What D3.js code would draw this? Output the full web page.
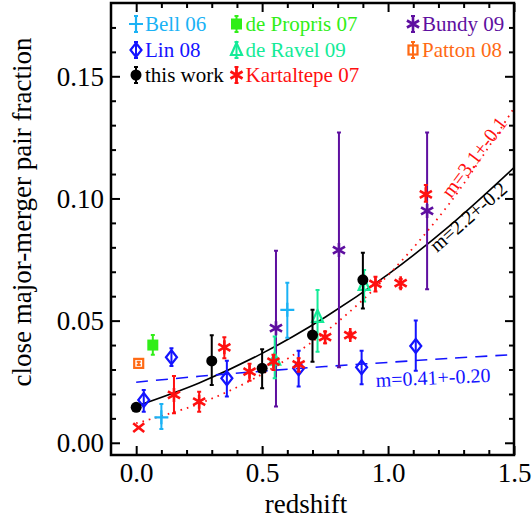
<!DOCTYPE html>
<html><head><meta charset="utf-8">
<script src="https://cdn.jsdelivr.net/npm/d3@7/dist/d3.min.js"></script>
<style>
body{margin:0;background:#fff}
svg text{font-family:'Liberation Serif','Times New Roman',Times,serif !important}
</style>
</head><body>
<svg id="chart" width="532" height="523"></svg>
<script>
// ---------- data ----------
const xMajorTicks = [0.0, 0.5, 1.0, 1.5];
const xTickLabels = ["0.0", "0.5", "1.0", "1.5"];
const xMinorTicks = [0.1, 0.2, 0.3, 0.4, 0.6, 0.7, 0.8, 0.9, 1.1, 1.2, 1.3, 1.4];
const yMajorTicks = [0.00, 0.05, 0.10, 0.15];
const yTickLabels = ["0.00", "0.05", "0.10", "0.15"];
const yMinorTicks = [0.01, 0.02, 0.03, 0.04, 0.06, 0.07, 0.08, 0.09, 0.11, 0.12, 0.13, 0.14, 0.16, 0.17];

// this work
const thisWorkZ  = [0.0, 0.3, 0.5, 0.7, 0.9];
const thisWorkF  = [0.0145, 0.0335, 0.0305, 0.0441, 0.0667];
const thisWorkLo = [0.0138, 0.0237, 0.0223, 0.0332, 0.0550];
const thisWorkHi = [0.0152, 0.0440, 0.0383, 0.0544, 0.0778];
// Bell 06
const bellZ  = [0.10, 0.60];
const bellF  = [0.0104, 0.0544];
const bellLo = [0.0056, 0.0430];
const bellHi = [0.0159, 0.0655];
// Lin 08
const linZ  = [0.03, 0.14, 0.36, 0.645, 0.895, 1.11];
const linF  = [0.0175, 0.0350, 0.0264, 0.0305, 0.0309, 0.0396];
const linLo = [0.0127, 0.0314, 0.0189, 0.0230, 0.0240, 0.0295];
const linHi = [0.0216, 0.0387, 0.0336, 0.0377, 0.0377, 0.0500];
// de Propris 07
const depropZ  = [0.066];
const depropF  = [0.0400];
const depropLo = [0.0360];
const depropHi = [0.0441];
// de Ravel 09
const deravelZ  = [0.55, 0.72, 0.905];
const deravelF  = [0.0340, 0.0515, 0.0646];
const deravelLo = [0.0264, 0.0373, 0.0578];
const deravelHi = [0.0435, 0.0625, 0.0707];
// Kartaltepe 07
const kartZ  = [0.01, 0.15, 0.25, 0.35, 0.45, 0.545, 0.645, 0.75, 0.85, 0.95, 1.05, 1.15];
const kartF  = [0.0062, 0.0196, 0.0168, 0.0391, 0.0291, 0.0332, 0.0321, 0.0432, 0.0441, 0.0650, 0.0653, 0.1017];
const kartLo = [0.0062, 0.0121, 0.0127, 0.0346, 0.0254, 0.0298, 0.0291, 0.0407, 0.0430, 0.0619, 0.0635, 0.0987];
const kartHi = [0.0062, 0.0273, 0.0209, 0.0432, 0.0323, 0.0360, 0.0346, 0.0455, 0.0452, 0.0680, 0.0670, 0.1055];
const kartSym = ["cross", "aster", "aster", "aster", "aster", "aster", "aster", "aster", "aster", "aster", "aster", "aster"];
// Bundy 09
const bundyZ  = [0.555, 0.805, 1.155];
const bundyF  = [0.0469, 0.0789, 0.0949];
const bundyLo = [0.0148, 0.0309, 0.0628];
const bundyHi = [0.0786, 0.1270, 0.1270];
// Patton 08
const pattonZ  = [0.01];
const pattonF  = [0.0325];
const pattonLo = [0.0318];
const pattonHi = [0.0332];

// fitted curves
const fitZ     = [0.0, 0.25, 0.5, 0.75, 1.0, 1.25, 1.5];
const fitThis  = [0.0150, 0.0245, 0.0366, 0.0514, 0.0689, 0.0893, 0.1126];
const fitKart  = [0.0080, 0.0160, 0.0281, 0.0453, 0.0686, 0.0988, 0.1370];
const fitLin   = [0.0248, 0.0272, 0.0293, 0.0312, 0.0329, 0.0346, 0.0361];
const fitLabels = ["m=2.2+-0.2", "m=3.1+-0.1", "m=0.41+-0.20"];

// ---------- setup ----------
const FONT = "'Liberation Serif','Times New Roman',Times,serif";
const svg = d3.select("#chart");
const L = 111, R = 514, T = 3, B = 455;
const x = d3.scaleLinear().domain([-0.1, 1.5]).range([L, R]);
const y = d3.scaleLinear().domain([-0.005, 0.18]).range([B, T]);

const col = {
  bell: "#1ab2f5", lin: "#1414ff", me: "#000000", deprop: "#30ee18",
  deravel: "#14eb98", kart: "#ff1010", bundy: "#5e0fa0", patton: "#ff6a14"
};

svg.append("clipPath").attr("id", "clip").append("rect")
  .attr("x", L).attr("y", T).attr("width", R - L).attr("height", B - T);
const plot = svg.append("g").attr("clip-path", "url(#clip)");

// ---------- fit curves ----------
const line = d3.line().x((d, i) => x(fitZ[i])).y(d => y(d)).curve(d3.curveCatmullRom);
plot.append("path").attr("d", line(fitThis)).attr("fill", "none")
  .attr("stroke", "#000").attr("stroke-width", 1.6);
plot.append("path").attr("d", line(fitKart)).attr("fill", "none")
  .attr("stroke", col.kart).attr("stroke-width", 1.8).attr("stroke-dasharray", "1.6,5");
plot.append("path").attr("d", line(fitLin)).attr("fill", "none")
  .attr("stroke", col.lin).attr("stroke-width", 1.6).attr("stroke-dasharray", "12,8");

// ---------- markers ----------
function marker(g, type, c, cx, cy) {
  if (type === "circle") {
    g.append("circle").attr("cx", cx).attr("cy", cy).attr("r", 5.5).attr("fill", c);
  } else if (type === "plus") {
    g.append("path").attr("d", `M${cx-7},${cy}H${cx+7}M${cx},${cy-7}V${cy+7}`)
      .attr("stroke", c).attr("stroke-width", 2.2);
  } else if (type === "diamond") {
    g.append("path").attr("d", `M${cx},${cy-7}L${cx+5.5},${cy}L${cx},${cy+7}L${cx-5.5},${cy}Z`)
      .attr("fill", "none").attr("stroke", c).attr("stroke-width", 2.2);
  } else if (type === "fsquare") {
    g.append("rect").attr("x", cx-5.5).attr("y", cy-5.5).attr("width", 11).attr("height", 11).attr("fill", c);
  } else if (type === "osquare") {
    g.append("rect").attr("x", cx-4.5).attr("y", cy-4.5).attr("width", 9).attr("height", 9)
      .attr("fill", "none").attr("stroke", c).attr("stroke-width", 2.2);
  } else if (type === "triangle") {
    g.append("path").attr("d", `M${cx},${cy-7}L${cx+5.5},${cy+5}L${cx-5.5},${cy+5}Z`)
      .attr("fill", "none").attr("stroke", c).attr("stroke-width", 2.2);
  } else if (type === "cross") {
    const r = 5.5;
    g.append("path").attr("d", `M${cx-r},${cy-r*0.8}L${cx+r},${cy+r*0.8}M${cx-r},${cy+r*0.8}L${cx+r},${cy-r*0.8}`)
      .attr("stroke", c).attr("stroke-width", 2.6);
  } else if (type === "aster") {
    const r = 7, a = r * Math.cos(Math.PI / 6), b = r * Math.sin(Math.PI / 6);
    g.append("path").attr("d",
      `M${cx},${cy-r}V${cy+r}M${cx-a},${cy-b}L${cx+a},${cy+b}M${cx-a},${cy+b}L${cx+a},${cy-b}`)
      .attr("stroke", c).attr("stroke-width", 2.6);
  }
}
function errbar(g, c, cx, y1, y2) {
  g.append("path").attr("d", `M${cx},${y1}V${y2}M${cx-2},${y1}H${cx+2}M${cx-2},${y2}H${cx+2}`)
    .attr("stroke", c).attr("stroke-width", 2).attr("fill", "none");
}
function series(Z, F, Lo, Hi, type, c) {
  const g = plot.append("g");
  Z.forEach((z, i) => {
    if (Hi[i] - Lo[i] > 0.0005) errbar(g, c, x(z), y(Hi[i]), y(Lo[i]));
    marker(g, Array.isArray(type) ? type[i] : type, c, x(z), y(F[i]));
  });
}
series(bundyZ, bundyF, bundyLo, bundyHi, "aster", col.bundy);
series(deravelZ, deravelF, deravelLo, deravelHi, "triangle", col.deravel);
series(bellZ, bellF, bellLo, bellHi, "plus", col.bell);
series(linZ, linF, linLo, linHi, "diamond", col.lin);
series(depropZ, depropF, depropLo, depropHi, "fsquare", col.deprop);
series(pattonZ, pattonF, pattonLo, pattonHi, "osquare", col.patton);
series(thisWorkZ, thisWorkF, thisWorkLo, thisWorkHi, "circle", col.me);
series(kartZ, kartF, kartLo, kartHi, kartSym, col.kart);

// ---------- fit labels ----------
svg.append("text").attr("transform", "translate(437,253) rotate(-41)")
  .attr("font-size", 20).attr("fill", "#000").text(fitLabels[0]);
svg.append("text").attr("transform", "translate(451,199) rotate(-53)")
  .attr("font-size", 20).attr("fill", col.kart).text(fitLabels[1]);
svg.append("text").attr("transform", "translate(376,387) rotate(-2.6)")
  .attr("font-size", 20).attr("fill", col.lin).text(fitLabels[2]);

// ---------- axes ----------
function ax(gen, scale, vals, size, tx, ty, fmt) {
  const a = gen(scale).tickValues(vals).tickSize(size).tickSizeOuter(0);
  if (fmt) a.tickFormat((d, i) => fmt[i]); else a.tickFormat("");
  const g = svg.append("g").attr("transform", `translate(${tx},${ty})`).call(a);
  g.attr("font-family", FONT);
  g.select(".domain").remove();
  g.selectAll(".tick line").attr("stroke", "#000").attr("stroke-width", 2);
  return g;
}
const gxb = ax(d3.axisBottom, x, xMajorTicks, -9, 0, B, xTickLabels);
ax(d3.axisBottom, x, xMinorTicks, -5, 0, B);
ax(d3.axisTop, x, xMajorTicks, -9, 0, T);
ax(d3.axisTop, x, xMinorTicks, -5, 0, T);
const gyl = ax(d3.axisLeft, y, yMajorTicks, -9, L, 0, yTickLabels);
ax(d3.axisLeft, y, yMinorTicks, -5, L, 0);
ax(d3.axisRight, y, yMajorTicks, -9, R, 0);
ax(d3.axisRight, y, yMinorTicks, -5, R, 0);

gxb.selectAll(".tick text").attr("font-size", 27).attr("fill", "#000")
  .attr("y", 27).attr("dy", 0);
gyl.selectAll(".tick text").attr("font-size", 27).attr("fill", "#000")
  .attr("x", -7).attr("dy", "0.34em");

svg.append("rect").attr("x", L).attr("y", T).attr("width", R - L).attr("height", B - T)
  .attr("fill", "none").attr("stroke", "#000").attr("stroke-width", 2.5);

svg.append("text").attr("x", 306).attr("y", 513).attr("text-anchor", "middle")
  .attr("font-size", 27).text("redshift");
svg.append("text").attr("transform", "translate(31,212) rotate(-90)").attr("text-anchor", "middle")
  .attr("font-size", 27).text("close major-merger pair fraction");

// ---------- legend ----------
const legendNames = ["Bell 06", "Lin 08", "this work", "de Propris 07", "de Ravel 09", "Kartaltepe 07", "Bundy 09", "Patton 08"];
const legendKeys  = ["bell", "lin", "me", "deprop", "deravel", "kart", "bundy", "patton"];
const legendTypes = ["plus", "diamond", "circle", "fsquare", "triangle", "aster", "aster", "osquare"];
const legendCol   = [0, 0, 0, 1, 1, 1, 2, 2];
const legendRow   = [0, 1, 2, 0, 1, 2, 0, 1];
const colX = [136, 236.5, 413];
const rowY = [24, 50, 75];
const lg = svg.append("g");
legendNames.forEach((nm, i) => {
  const cx = colX[legendCol[i]], cy = rowY[legendRow[i]], c = col[legendKeys[i]];
  errbar(lg, c, cx, cy - 8, cy + 8);
  marker(lg, legendTypes[i], c, cx, cy);
  lg.append("text").attr("x", cx + 9).attr("y", cy + 7).attr("font-size", 21)
    .attr("fill", c).text(nm);
});

svg.selectAll("text").style("font-family", FONT);
</script>
</body></html>
